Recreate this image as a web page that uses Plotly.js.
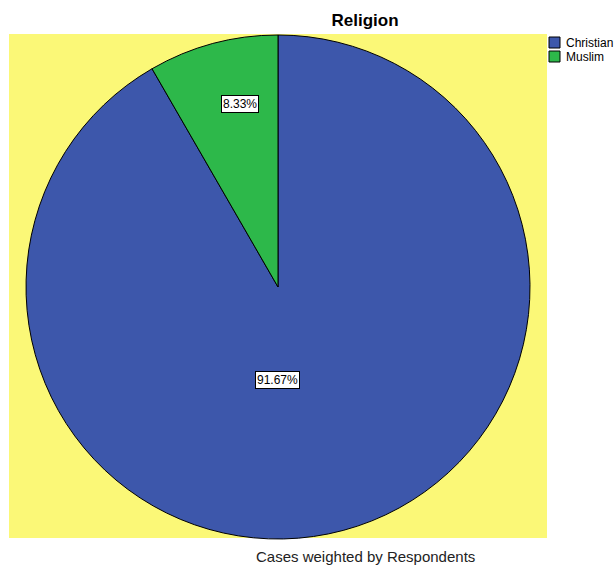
<!DOCTYPE html>
<html>
<head>
<meta charset="utf-8">
<script src="https://cdn.plot.ly/plotly-3.0.1.min.js"></script>
<style>html,body{margin:0;padding:0;background:#fff;}#chart{width:614px;height:568px;}</style>
</head>
<body>
<div id="chart"></div>
<script>
// Data
const categories = ["Christian", "Muslim"];
const percentages = [91.67, 8.33];
const sliceColors = ["#3D57AB", "#2DB84A"];

const W = 614, H = 568;
const FONT = "Liberation Sans, Arial, sans-serif";
const pieLeft = 26, pieRight = 530, pieTop = 34, pieBottom = 540;
const dom = {x: [pieLeft / W, pieRight / W], y: [1 - pieBottom / H, 1 - pieTop / H]};
const radiusPx = Math.min(pieRight - pieLeft, pieBottom - pieTop) / 2;
const cxPaper = (dom.x[0] + dom.x[1]) / 2;
const cyPaper = (dom.y[0] + dom.y[1]) / 2;
// label placement style (fraction of radius along slice mid-angle, plus pixel nudge)
const labelRadius = [0.37, 0.74];
const labelNudge = [[-25, 3], [10, -3]];

const total = percentages.reduce((a, b) => a + b, 0);
let cum = 0;
const labelAnns = percentages.map((v, i) => {
  const mid = (cum + v / 2) / total * 2 * Math.PI; // clockwise from top
  cum += v;
  const r = radiusPx * labelRadius[i];
  return {
    xref: "paper", yref: "paper",
    x: cxPaper + (r * Math.sin(mid) + labelNudge[i][0]) / W,
    y: cyPaper + (r * Math.cos(mid) - labelNudge[i][1]) / H,
    xanchor: "center", yanchor: "middle",
    text: (v / total * 100).toFixed(2) + "%",
    showarrow: false,
    font: {family: FONT, size: 12, color: "#000"},
    bgcolor: "#ffffff", bordercolor: "#000000", borderwidth: 1, borderpad: 1
  };
});

// manual legend (style positions)
const legLeft = 549, legTop = 37, legBox = 11, legStep = 14, legTextGap = 4;
const legendShapes = categories.map((c, i) => ({
  type: "rect", xref: "paper", yref: "paper",
  x0: legLeft / W, x1: (legLeft + legBox) / W,
  y0: 1 - (legTop + i * legStep + legBox) / H, y1: 1 - (legTop + i * legStep) / H,
  fillcolor: sliceColors[i], line: {color: "#000", width: 1}
}));
const legendAnns = categories.map((c, i) => ({
  xref: "paper", yref: "paper",
  x: (legLeft + legBox + legTextGap) / W, xanchor: "left",
  y: 1 - (legTop + i * legStep + legBox / 2) / H, yanchor: "middle",
  text: c, showarrow: false,
  font: {family: FONT, size: 12, color: "#000"}
}));

const trace = {
  type: "pie",
  labels: categories,
  values: percentages,
  sort: false,
  direction: "clockwise",
  rotation: 0,
  textinfo: "none",
  hoverinfo: "label+percent",
  showlegend: false,
  marker: {colors: sliceColors, line: {color: "#000000", width: 1}},
  domain: dom
};

const layout = {
  width: W, height: H,
  margin: {l: 0, r: 0, t: 0, b: 0},
  paper_bgcolor: "#ffffff",
  font: {family: FONT, color: "#000"},
  title: {
    text: "<b>Religion</b>",
    x: 365 / W, xanchor: "center",
    y: 1 - 20 / H, yanchor: "middle",
    font: {size: 17, family: FONT, color: "#000"}
  },
  showlegend: false,
  shapes: [{
    type: "rect", xref: "paper", yref: "paper", layer: "below",
    x0: 9 / W, x1: 547 / W, y0: 1 - 538 / H, y1: 1 - 34 / H,
    fillcolor: "#FBF877", line: {width: 0}
  }].concat(legendShapes),
  annotations: labelAnns.concat(legendAnns, [{
    xref: "paper", yref: "paper",
    x: 365 / W, y: 1 - 556 / H, xanchor: "center", yanchor: "middle",
    text: "Cases weighted by Respondents", showarrow: false,
    font: {size: 15, family: FONT, color: "#222"}
  }])
};

Plotly.newPlot("chart", [trace], layout, {displayModeBar: false, staticPlot: true});
</script>
</body>
</html>
